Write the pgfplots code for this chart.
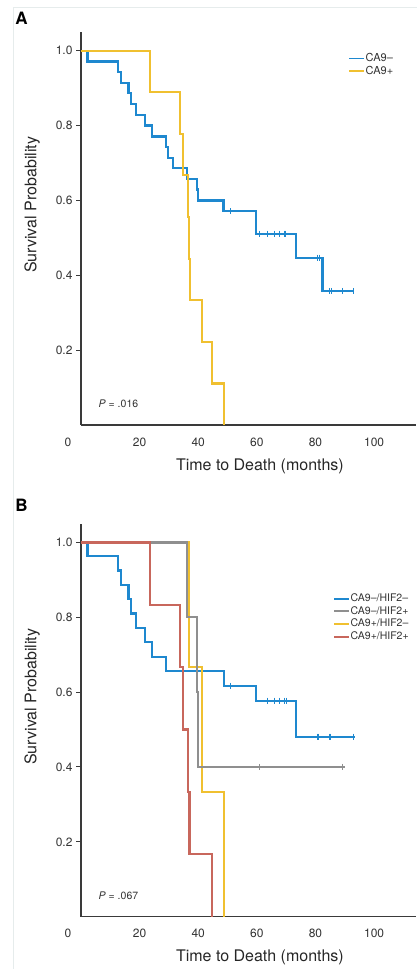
\documentclass[border=0pt]{standalone}
\usepackage{pgfplots}
\pgfplotsset{compat=1.18}
\usepackage{fontspec}
\setmainfont{TeX Gyre Heros}
\definecolor{kmblue}{HTML}{1E88CF}
\definecolor{kmyellow}{HTML}{F0C030}
\definecolor{kmgray}{HTML}{8F8F8F}
\definecolor{kmred}{HTML}{C8675C}
\definecolor{frameline}{HTML}{E6ECEC}
\definecolor{axisgray}{HTML}{3A3A3A}

\pgfplotsset{
  kmaxis/.style={
    scale only axis, width=335pt, height=393pt,
    xmin=0, xmax=114.3, ymin=0, ymax=1.05,
    axis x line*=bottom, axis y line*=left,
    axis line style={-, line width=1.2pt, color=axisgray},
    xtick={20,40,60,80,100}, extra x ticks={0},
    extra x tick style={xticklabel style={xshift=-13pt}},
    xtick style={draw=none},
    ytick={0.2,0.4,0.6,0.8,1.0},
    yticklabels={0.2,0.4,0.6,0.8,1.0},
    ytick style={line width=1pt, color=axisgray},
    tick align=outside, major tick length=5pt,
    tick label style={font=\fontsize{12}{14}\selectfont, text=black!80},
    /pgf/number format/assume math mode=true,
    xticklabel style={yshift=-4pt},
    xlabel={Time to Death (months)},
    ylabel={Survival Probability},
    label style={font=\fontsize{16}{18}\selectfont, text=black!85},
    xlabel style={at={(axis description cs:0.534,-0.104)}, anchor=center},
    ylabel style={at={(axis description cs:-0.146,0.56)}, anchor=center},
    legend style={draw=none, fill=none, inner sep=0pt,
      font=\fontsize{11}{12}\selectfont, text=black!80,
      nodes={inner sep=0.75pt, text height=8.5pt, text depth=2.7pt}},
    legend cell align=left,
    legend image code/.code={\draw[#1, line width=1.8pt] (0pt,0pt) -- (15pt,0pt);},
  },
  kmline/.style={const plot, line width=2.2pt, mark=none},
  censor/.style={only marks, mark=|, mark size=3pt, mark options={line width=1pt}, forget plot},
}

\begin{document}
\begin{tikzpicture}
\path[use as bounding box] (0,0) rectangle (416pt,969pt);
\draw[frameline, line width=0.8pt] (13pt,0pt) -- (13pt,962pt) -- (420pt,962pt);
\node[font=\fontsize{17}{20}\selectfont\bfseries] at (21.5pt,951pt) {A};
\node[font=\fontsize{17}{20}\selectfont\bfseries] at (21.5pt,464pt) {B};

% Panel A
\begin{axis}[kmaxis, at={(81pt,544pt)}, anchor=south west,
  legend style={at={(0.797,0.949)}, anchor=north west}]
\addplot[kmline, kmblue] coordinates {
  (0,1.0) (2.2,0.971) (12.7,0.943) (13.7,0.914) (16.2,0.886) (17.1,0.857)
  (18.8,0.829) (21.8,0.800) (24.1,0.771) (29.0,0.743) (29.6,0.714) (31.5,0.686)
  (36.1,0.657) (39.7,0.629) (40.0,0.600) (48.6,0.571) (59.6,0.511) (73.4,0.447)
  (82.4,0.358) (93.3,0.358)};
\addlegendentry{CA9–}
\addplot[censor, kmblue] coordinates {
  (50.9,0.571) (60.8,0.511) (63.7,0.511) (65.9,0.511) (67.7,0.511) (69.3,0.511)
  (69.9,0.511) (80.7,0.447) (81.3,0.447) (84.7,0.358) (85.3,0.358) (89.3,0.358)
  (93.0,0.358)};
\addplot[kmline, kmyellow] coordinates {
  (0,1.0) (23.5,0.889) (33.8,0.778) (34.9,0.667) (36.4,0.556) (36.9,0.444)
  (37.2,0.333) (41.4,0.222) (44.7,0.111) (48.8,0)};
\addlegendentry{CA9+}
\node[anchor=west, font=\fontsize{10.5}{12}\selectfont, text=black!80] at (axis cs:4.8,0.056) {\textit{P} = .016};
\end{axis}

% Panel B
\begin{axis}[kmaxis, at={(81pt,52.3pt)}, anchor=south west,
  legend style={at={(0.752,0.826)}, anchor=north west, font=\fontsize{10.5}{12}\selectfont}]
\addlegendimage{kmblue}
\addlegendentry{CA9–/HIF2–}
\addlegendimage{kmgray}
\addlegendentry{CA9–/HIF2+}
\addlegendimage{kmyellow}
\addlegendentry{CA9+/HIF2–}
\addlegendimage{kmred}
\addlegendentry{CA9+/HIF2+}
\addplot[kmline, kmblue, forget plot] coordinates {
  (0,1.0) (2.2,0.963) (12.7,0.925) (13.7,0.887) (16.2,0.848) (17.1,0.810)
  (18.8,0.771) (21.8,0.733) (24.1,0.694) (29.0,0.656) (48.8,0.617) (59.6,0.577)
  (73.3,0.481) (93.5,0.481)};
\addplot[censor, kmblue] coordinates {
  (51.1,0.617) (63.7,0.577) (66.0,0.577) (67.7,0.577) (69.4,0.577) (70.0,0.577)
  (80.7,0.481) (81.2,0.481) (84.7,0.481) (85.2,0.481) (92.9,0.481)};
\addplot[kmline, kmyellow, forget plot] coordinates {
  (0,1.0) (36.9,0.667) (41.4,0.333) (48.9,0)};
\addplot[kmline, kmgray, forget plot] coordinates {
  (0,1.0) (36.1,0.8) (39.5,0.6) (40.0,0.4) (90.1,0.4)};
\addplot[censor, kmgray] coordinates {(60.9,0.4) (89.3,0.4)};
\addplot[kmline, kmred, forget plot] coordinates {
  (0,1.0) (23.5,0.833) (33.8,0.667) (34.9,0.5) (36.6,0.333) (37.0,0.167) (44.8,0)};
\node[anchor=west, font=\fontsize{10.5}{12}\selectfont, text=black!80] at (axis cs:4.8,0.056) {\textit{P} = .067};
\end{axis}
\end{tikzpicture}
\end{document}
